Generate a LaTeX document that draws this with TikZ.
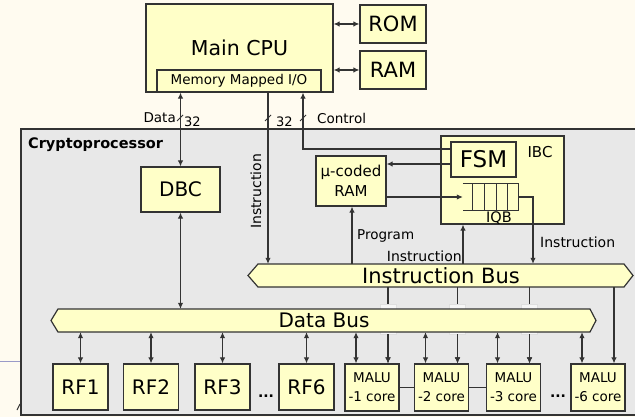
\documentclass[tikz,border=0pt]{standalone}
\usepackage{fontspec}
\setmainfont{DejaVu Sans}
\usetikzlibrary{arrows.meta}
\definecolor{paper}{HTML}{FFFBF0}
\definecolor{boxfill}{HTML}{FFFFC8}
\definecolor{chipfill}{HTML}{E8E8E8}
\definecolor{ink}{HTML}{333333}
\definecolor{stray}{HTML}{9A9AC8}
\begin{document}
\begin{tikzpicture}[x=1pt,y=-1pt,
  blk/.style={draw=ink, line width=1.2pt, fill=boxfill, inner sep=0pt, align=center, text=black},
  wire/.style={draw=ink, line width=1.1pt},
  tip/.style={-{Latex[length=6pt,width=5.5pt]}},
  dtip/.style={{Latex[length=6pt,width=5.5pt]}-{Latex[length=6pt,width=5.5pt]}},
  bus/.style={draw=ink, line width=1.2pt, fill=boxfill},
  lbl/.style={inner sep=0pt, text=black},
  fs/.style={font=\fontsize{#1}{#1}\selectfont},
  tick/.style={draw=ink, line width=0.8pt},
  bridge/.style={fill=chipfill!40!white, draw=gray!25, line width=0.6pt}
]
\useasboundingbox (0,0) rectangle (635,417);
\fill[paper] (0,0) rectangle (635,417);

% leftover marks at the lower left
\draw[stray, line width=0.9pt] (0,361) -- (21,361);
\draw[ink, line width=1pt] (17,410) -- (20,404);

% cryptoprocessor outline
\draw[fill=chipfill, draw=ink, line width=1.8pt] (21,129) rectangle (640,415);
\node[lbl, anchor=west, font=\bfseries\fontsize{14.5}{14.5}\selectfont] (cplab) at (28,145) {Cryptoprocessor};

% host side
\node[blk, minimum width=187pt, minimum height=88pt, fs=20.5] (cpu) at (239.5,48) {Main CPU};
\node[blk, minimum width=164pt, minimum height=22pt, fs=13.5] (mmio) at (239,81) {Memory Mapped I/O};
\node[blk, minimum width=66pt, minimum height=38pt, fs=21] (rom) at (393,24) {ROM};
\node[blk, minimum width=66pt, minimum height=38pt, fs=21] (ram) at (393,70) {RAM};

% instruction bus
\draw[bus] (248,275.5) -- (258,264) -- (624,264) -- (633,275.5) -- (624,287) -- (258,287) -- cycle;
\node[lbl, minimum width=366pt, minimum height=23pt, fs=21] (ibus) at (441,275.5) {Instruction Bus};

% functional units
\foreach \n/\x/\t in {rf1/80.5/RF1, rf2/151/RF2, rf3/222.5/RF3, rf6/306.5/RF6}
  \node[blk, minimum width=55pt, minimum height=46pt, fs=20] (\n) at (\x,387) {\t};
\foreach \n/\x/\t in {m1/372/1, m2/441.5/2, m3/513.5/3, m6/598/6}
  \node[blk, minimum width=54pt, minimum height=47pt, font=\fontsize{13.5}{19}\selectfont] (\n) at (\x,387.5) {MALU\\-\t{} core};
\foreach \n in {m1,m2,m3,m6} {
  \coordinate (\n d) at ([xshift=-16pt]\n.north);
  \coordinate (\n i) at ([xshift=16pt]\n.north);
}

% instruction bus to the MALU cores (passing behind the data bus)
\foreach \n in {m1,m2,m3,m6}
  \draw[wire, tip] (ibus.south -| \n i) -- (\n i);
\foreach \n in {m1,m2,m3}
  \draw[bridge] ([xshift=-8pt]\n i |- 0,304) rectangle ([xshift=8pt]\n i |- 0,334);
\foreach \n in {m1,m2,m3}
  \draw[wire, tip] (\n i |- 0,334) -- (\n i);

% data bus
\draw[bus] (51,320.5) -- (58,309) -- (590,309) -- (596,320.5) -- (590,332) -- (58,332) -- cycle;
\node[lbl, minimum width=532pt, minimum height=23pt, fs=20] (dbus) at (324,320.5) {Data Bus};

% controllers
\node[blk, minimum width=79pt, minimum height=45pt, fs=20] (dbc) at (180.5,189.5) {DBC};
\node[blk, minimum width=70pt, minimum height=50pt, font=\fontsize{15}{20}\selectfont] (uram) at (351,181) {μ-coded\\RAM};
\node[blk, minimum width=123pt, minimum height=88pt] (ibc) at (502.5,180) {};
\node[lbl, fs=15] (ibclab) at (540,152) {IBC};
\node[blk, minimum width=65pt, minimum height=35pt, fs=23] (fsm) at (483.5,159.5) {FSM};
\node[inner sep=0pt, minimum width=55pt, minimum height=26pt] (iqb) at (490.5,197) {};
\draw[ink, line width=1.1pt] (iqb.north west) -- (iqb.north east) -- (iqb.south east) -- (iqb.south west);
\foreach \d in {10,22,34,45}
  \draw[ink, line width=1pt] ([xshift=\d pt]iqb.north west) -- ([xshift=\d pt]iqb.south west);
\node[lbl, fs=14.5, anchor=north] (iqblab) at (499,212) {IQB};

% CPU peripherals
\draw[wire, dtip] (cpu.east |- rom.west) -- (rom.west);
\draw[wire, dtip] (cpu.east |- ram.west) -- (ram.west);

% CPU to cryptoprocessor
\coordinate (xi) at (268,0);
\coordinate (xc) at (303,0);
\coordinate (cy) at (0,149);
\coordinate (fy) at (0,164);
\coordinate (xo) at (533,0);
\coordinate (xp) at (352,0);
\coordinate (xq) at (463,0);
\draw[wire, dtip] (cpu.south -| dbc.north) -- (dbc.north);
\draw[wire, tip] (cpu.south -| xi) -- (ibus.north -| xi);
\draw[wire, tip] (fsm.west |- cy) -| (cpu.south -| xc);
\draw[tick] (177,121) -- (183,115);
\draw[tick] (265,121) -- (271,115);
\draw[tick] (300,121) -- (306,115);
\node[lbl, fs=13.5, anchor=east] (datalab) at (176,118) {Data};
\node[lbl, fs=13, anchor=west] (w1) at (184,122) {32};
\node[lbl, fs=13, anchor=west] (w2) at (276,122) {32};
\node[lbl, fs=13.5, anchor=west] (ctrllab) at (317,118) {Control};
\node[lbl, fs=14, rotate=90] (inlab) at (256,191.5) {Instruction};

% inside the cryptoprocessor
\draw[wire, dtip] (dbc.south) -- (dbus.north -| dbc.south);
\draw[wire, tip] (fsm.west |- fy) -- (uram.east |- fy);
\draw[wire, tip] (uram.east |- iqb.west) -- (iqb.west);
\draw[wire, tip] (iqb.east) -| (ibus.north -| xo);
\draw[wire, tip] (ibus.north -| xp) -- (uram.south -| xp);
\draw[wire, tip] (ibus.north -| xq) -- (ibc.south -| xq);
\node[lbl, fs=13.5, anchor=west] (proglab) at (357,236) {Program};
\node[lbl, fs=14, anchor=east] (pinlab) at (462,256) {Instruction};
\node[lbl, fs=14, anchor=west] (oinlab) at (540,242) {Instruction};

% data bus to the units
\foreach \n in {rf1,rf2,rf3,rf6}
  \draw[wire, dtip] (dbus.south -| \n.north) -- (\n.north);
\foreach \n in {m1,m2,m3,m6}
  \draw[wire, dtip] (dbus.south -| \n d) -- (\n d);
\draw[ink, line width=1pt] (m1.east) -- (m2.west);
\draw[ink, line width=1pt] (m2.east) -- (m3.west);
\node[lbl, font=\bfseries\fontsize{14}{14}\selectfont] (dots1) at (266,396) {...};
\node[lbl, font=\bfseries\fontsize{14}{14}\selectfont] (dots2) at (558,396) {...};
\end{tikzpicture}
\end{document}
